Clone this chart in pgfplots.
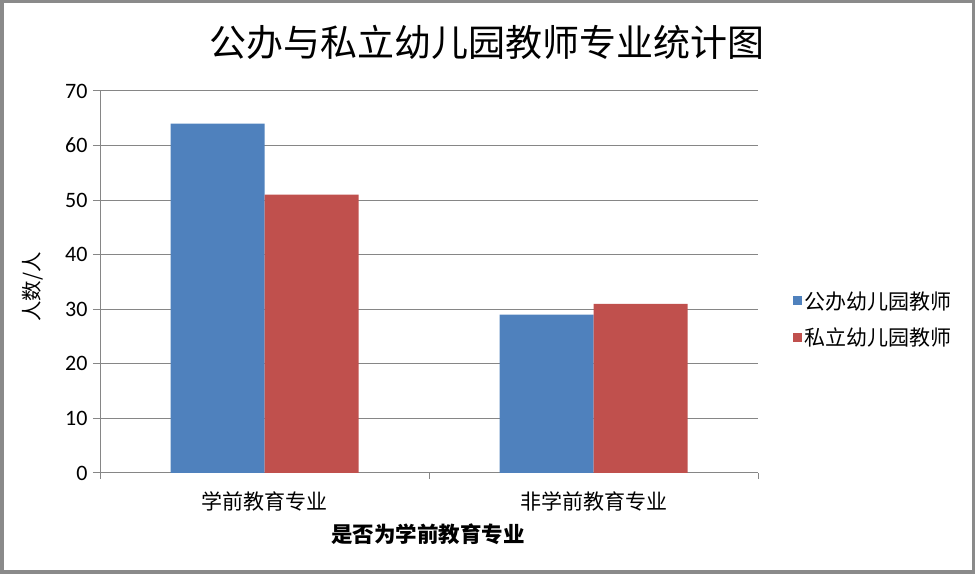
\documentclass[border=0pt]{standalone}
\usepackage{pgfplots}
\pgfplotsset{compat=1.18}
\usepackage{fontspec}
\setmainfont{Carlito}
\newfontfamily\cjk{Noto Sans CJK SC}
\definecolor{gongban}{HTML}{4F81BD}
\definecolor{sili}{HTML}{C0504D}
\definecolor{gridgray}{HTML}{868686}
\definecolor{framegray}{HTML}{8A8A8A}
\begin{document}
\begin{tikzpicture}
    \useasboundingbox (0,0) rectangle (975bp,574bp);
    \draw[line width=3.5bp, framegray] (1.75bp,1.75bp) rectangle (973.25bp,572.25bp);
    \node at (487bp,532bp)
        {\fontsize{37bp}{40bp}\selectfont\cjk 公办与私立幼儿园教师专业统计图};
    \begin{axis}[
            at={(100bp,101bp)}, anchor=south west,
            scale only axis, width=658bp, height=382bp,
            ybar=0pt, bar width=94bp,
            xmin=-0.5, xmax=1.5, ymin=0, ymax=70,
            xtick={0,1},
            xticklabels={{\cjk 学前教育专业}, {\cjk 非学前教育专业}},
            minor xtick={-0.5,0.5,1.5},
            ytick={0,10,...,70},
            axis x line*=bottom, axis y line*=left,
            axis line style={gridgray, line width=1bp},
            tick align=outside,
            major tick length=7bp, minor tick length=6bp,
            x tick style={draw=none},
            minor x tick style={draw=gridgray, line width=1bp},
            y tick style={gridgray, line width=1bp},
            ymajorgrids, grid style={gridgray, line width=1bp},
            /pgf/number format/assume math mode=true,
            xticklabel style={yshift=-8bp, font=\fontsize{21bp}{23bp}\selectfont},
            yticklabel style={xshift=-2bp, font=\fontsize{22bp}{24bp}\selectfont},
            ylabel={\cjk 人数/人},
            ylabel style={at={(axis description cs:-0.1018,0.487)}, anchor=center,
                font=\fontsize{20.5bp}{22bp}\selectfont},
            xlabel={\cjk\bfseries 是否为学前教育专业},
            xlabel style={at={(axis description cs:0.4985,-0.160)}, anchor=center,
                font=\fontsize{21.5bp}{24bp}\selectfont},
            legend style={at={(axis description cs:1.053,0.403)}, anchor=west,
                draw=none, fill=none, row sep=13bp,
                font=\fontsize{21bp}{23bp}\selectfont\cjk,
                inner sep=0pt, cells={anchor=west}},
            legend image code/.code={\fill[#1] (0bp,-4.5bp) rectangle (9bp,4.5bp);},
        ]
        \addplot[fill=gongban, draw=none] coordinates {(0,64) (1,29)};
        \addlegendentry{公办幼儿园教师}
        \addplot[fill=sili, draw=none] coordinates {(0,51) (1,31)};
        \addlegendentry{私立幼儿园教师}
    \end{axis}
\end{tikzpicture}
\end{document}
